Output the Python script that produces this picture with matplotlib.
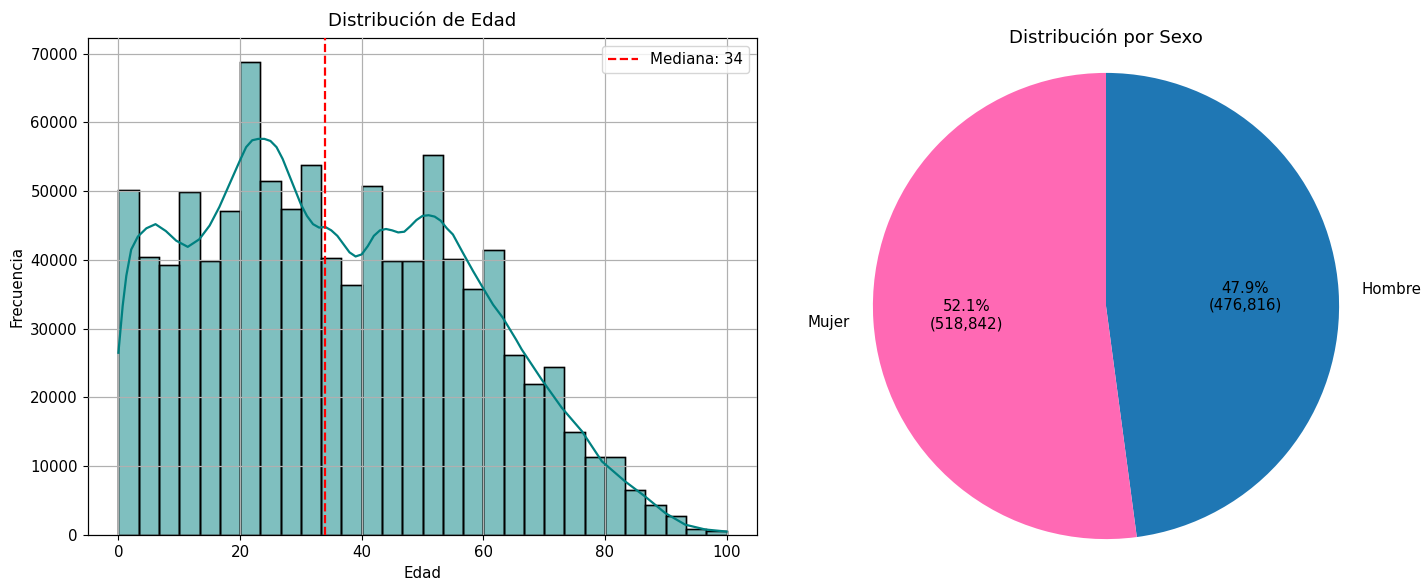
import matplotlib
matplotlib.use("Agg")
import matplotlib.pyplot as plt
import numpy as np

# Histograma de edad: 30 bins entre 0 y 100
bin_edges = np.linspace(0, 100, 31)
conteos = [50200, 40400, 39200, 49900, 39800, 47100, 68800, 51500, 47400, 53800,
           40300, 36400, 50800, 39800, 39900, 55300, 40200, 35800, 41400, 26200,
           21900, 24400, 15000, 11400, 11300, 6500, 4300, 2800, 900, 600]

# Curva KDE (escala de frecuencia)
kde_x = [0, 0.7, 1.3, 2.1, 3.2, 4.6, 6.1, 7.8, 9.5, 11.4, 13.3, 15.0, 16.6, 18, 19,
         20, 21, 22, 23, 24, 25, 26, 27, 28, 29, 30, 31, 32, 33, 34, 35, 36, 37, 38,
         39, 40, 41, 42, 43, 44, 45, 46, 47, 48, 49, 50, 51, 52, 53, 54, 55, 56.6,
         58.3, 60.1, 61.6, 63.2, 65.4, 66.3, 69.6, 72.9, 76.2, 79.5, 83.3, 86.6,
         89.9, 93.2, 96.5, 100]
kde_y = [26500, 33300, 37700, 41500, 43400, 44600, 45200, 44200, 42800, 41900, 43000,
         45000, 47700, 50500, 52500, 54500, 56400, 57400, 57600, 57600, 57300, 56400,
         54700, 52500, 50300, 48100, 46400, 45200, 44700, 44800, 44300, 43500, 42300,
         41100, 40500, 40800, 42000, 43500, 44300, 44500, 44300, 44000, 44100, 44900,
         45800, 46400, 46500, 46300, 45700, 44600, 43700, 41100, 38400, 35700, 33500,
         31600, 28400, 27000, 22600, 18500, 15100, 10700, 7800, 5600, 3200, 1500,
         800, 500]
mediana = 34

# Sexo
sexos = ["Hombre", "Mujer"]
cantidades = [476816, 518842]
colores = ["#1f77b4", "#ff69b4"]

esc = 1.085
plt.rcParams.update({
    "font.size": 10 * esc,
    "axes.titlesize": 12 * esc,
    "xtick.major.size": 3.5 * esc,
    "ytick.major.size": 3.5 * esc,
    "axes.linewidth": 0.8 * esc,
    "grid.linewidth": 0.8 * esc,
})

fig = plt.figure(figsize=(14.24, 5.79), dpi=100)

ax1 = fig.add_axes([0.0618, 0.076, 0.4698, 0.858])
ax1.bar(bin_edges[:-1], conteos, width=np.diff(bin_edges), align="edge",
        color="teal", alpha=0.5, edgecolor="black", linewidth=1.05, zorder=2)
ax1.bar(bin_edges[:-1], conteos, width=np.diff(bin_edges), align="edge",
        fill=False, edgecolor="black", linewidth=1.05, zorder=2)
ax1.plot(kde_x, kde_y, color="teal", linewidth=1.6, zorder=3)
ax1.axvline(mediana, color="red", linestyle="--", linewidth=1.6,
            label=f"Mediana: {mediana}", zorder=4)
ax1.set_title("Distribución de Edad", pad=9)
ax1.set_xlabel("Edad")
ax1.set_ylabel("Frecuencia")
ax1.grid(True, zorder=0)
ax1.set_axisbelow(False)
ax1.legend(loc="upper right")

ax2 = fig.add_axes([851 / 1424, 18 / 579, 510 / 1424, 510 / 579])
total = sum(cantidades)
ax2.pie(cantidades, labels=sexos, colors=colores, startangle=90, counterclock=False,
        autopct=lambda p: f"{p:.1f}%\n({int(round(p * total / 100)):,})")
ax2.set_xlim(-1.094, 1.094)
ax2.set_ylim(-1.094, 1.094)
ax2.set_aspect("equal")
ax2.set_title("Distribución por Sexo")

fig.savefig("out.png", dpi=100)
